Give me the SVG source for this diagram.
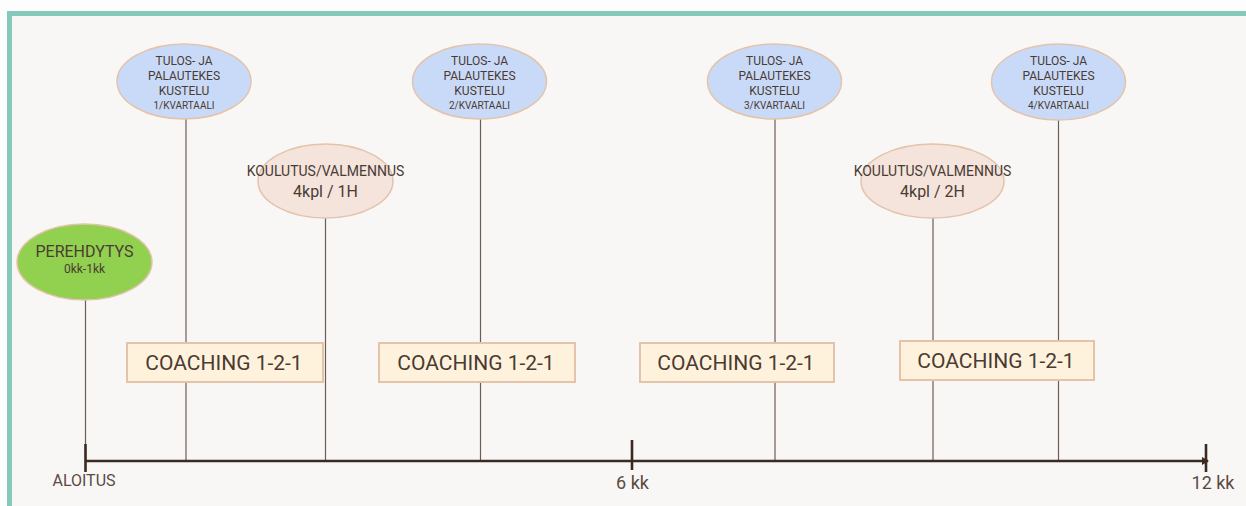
<svg xmlns="http://www.w3.org/2000/svg" width="1246" height="506" viewBox="0 0 1246 506">
  <defs>
    <style>
      .txt { font-family: Roboto, "Liberation Sans", sans-serif; fill: #4a3b33; text-anchor: middle; }
      .tulos { fill: #c9daf8; stroke: #e3c4ab; stroke-width: 1.5; }
      .koul { fill: #f4e4dc; stroke: #e3c4ab; stroke-width: 1.5; }
      .pere { fill: #92d050; stroke: #e3c4ab; stroke-width: 1.5; }
      .box { fill: #fff2dc; stroke: #e5c3aa; stroke-width: 2; }
      .stem { stroke: #6d5c54; stroke-width: 1.2; fill: none; }
      .axis { stroke: #3b2a22; stroke-width: 2.6; fill: none; }
      .t11 { font-size: 12px; }
      .t9 { font-size: 10px; }
      .t12 { font-size: 12px; }
      .t13 { font-size: 14px; }
      .t15 { font-size: 15px; }
      .t16 { font-size: 16px; }
      .t21 { font-size: 21px; }
      .lbl { fill: #5a4a42; }
    </style>
    <marker id="arrow" markerWidth="8" markerHeight="8" refX="6" refY="4" orient="auto" markerUnits="userSpaceOnUse">
      <path d="M0,0 L7,4 L0,8 Z" fill="#3b2a22"/>
    </marker>
  </defs>

  <!-- page and frame -->
  <rect x="0" y="0" width="1246" height="506" fill="#fdfdfd"/>
  <rect x="9" y="13" width="1240" height="500" fill="#f9f7f5"/>
  <rect x="7" y="11" width="1239" height="5" fill="#86c9bb"/>
  <rect x="7" y="11" width="5" height="495" fill="#86c9bb"/>

  <!-- connectors: stems down to the timeline -->
  <g id="connectors">
    <line class="stem" x1="85.5" y1="300" x2="85.5" y2="461"/>
    <line class="stem" x1="186" y1="119" x2="186" y2="461"/>
    <line class="stem" x1="325.5" y1="218" x2="325.5" y2="461"/>
    <line class="stem" x1="480.5" y1="119" x2="480.5" y2="461"/>
    <line class="stem" x1="775" y1="119" x2="775" y2="461"/>
    <line class="stem" x1="933" y1="218" x2="933" y2="461"/>
    <line class="stem" x1="1058.5" y1="119" x2="1058.5" y2="461"/>
  </g>

  <!-- timeline -->
  <g id="timeline">
    <line class="axis" x1="85" y1="461" x2="1208" y2="461" marker-end="url(#arrow)"/>
    <line class="axis" x1="85.5" y1="444" x2="85.5" y2="472"/>
    <line class="axis" x1="632" y1="440" x2="632" y2="470"/>
    <line class="axis" x1="1206" y1="444" x2="1206" y2="472"/>
    <text class="txt lbl" font-size="16" x="84" y="486">ALOITUS</text>
    <text class="txt lbl" font-size="18" x="632.5" y="488.5">6 kk</text>
    <text class="txt lbl" font-size="18" x="1213" y="488.5">12 kk</text>
  </g>

  <!-- onboarding -->
  <g id="perehdytys">
    <ellipse class="pere" cx="84.5" cy="262" rx="67.5" ry="38"/>
    <text class="txt t16" x="84.5" y="256.5">PEREHDYTYS</text>
    <text class="txt t12" x="84.5" y="273">0kk-1kk</text>
  </g>

  <!-- quarterly reviews -->
  <g id="tulos1">
    <ellipse class="tulos" cx="184" cy="81.5" rx="67" ry="37.5"/>
    <text class="txt t11" x="184" y="65">TULOS- JA</text>
    <text class="txt t11" x="184" y="80">PALAUTEKES</text>
    <text class="txt t11" x="184" y="95">KUSTELU</text>
    <text class="txt t9" x="184" y="109">1/KVARTAALI</text>
  </g>
  <g id="tulos2">
    <ellipse class="tulos" cx="479.5" cy="81.5" rx="67" ry="37.5"/>
    <text class="txt t11" x="479.5" y="65">TULOS- JA</text>
    <text class="txt t11" x="479.5" y="80">PALAUTEKES</text>
    <text class="txt t11" x="479.5" y="95">KUSTELU</text>
    <text class="txt t9" x="479.5" y="109">2/KVARTAALI</text>
  </g>
  <g id="tulos3">
    <ellipse class="tulos" cx="774.5" cy="81.5" rx="67" ry="37.5"/>
    <text class="txt t11" x="774.5" y="65">TULOS- JA</text>
    <text class="txt t11" x="774.5" y="80">PALAUTEKES</text>
    <text class="txt t11" x="774.5" y="95">KUSTELU</text>
    <text class="txt t9" x="774.5" y="109">3/KVARTAALI</text>
  </g>
  <g id="tulos4">
    <ellipse class="tulos" cx="1058.5" cy="82" rx="67" ry="38"/>
    <text class="txt t11" x="1058.5" y="65">TULOS- JA</text>
    <text class="txt t11" x="1058.5" y="80">PALAUTEKES</text>
    <text class="txt t11" x="1058.5" y="95">KUSTELU</text>
    <text class="txt t9" x="1058.5" y="109">4/KVARTAALI</text>
  </g>

  <!-- training -->
  <g id="koulutus1">
    <ellipse class="koul" cx="325.5" cy="181" rx="67.5" ry="37"/>
    <text class="txt t13" x="325.5" y="176">KOULUTUS/VALMENNUS</text>
    <text class="txt t16" x="325.5" y="197">4kpl / 1H</text>
  </g>
  <g id="koulutus2">
    <ellipse class="koul" cx="932.5" cy="181" rx="71.5" ry="37"/>
    <text class="txt t13" x="932.5" y="176">KOULUTUS/VALMENNUS</text>
    <text class="txt t16" x="932.5" y="197">4kpl / 2H</text>
  </g>

  <!-- coaching sessions -->
  <g id="coaching1">
    <rect class="box" x="127" y="343" width="196" height="39"/>
    <text class="txt t21" x="224" y="369.5">COACHING 1-2-1</text>
  </g>
  <g id="coaching2">
    <rect class="box" x="379" y="343" width="196" height="39"/>
    <text class="txt t21" x="476" y="369.5">COACHING 1-2-1</text>
  </g>
  <g id="coaching3">
    <rect class="box" x="640" y="343" width="194" height="39"/>
    <text class="txt t21" x="736" y="369.5">COACHING 1-2-1</text>
  </g>
  <g id="coaching4">
    <rect class="box" x="900" y="341" width="194" height="39"/>
    <text class="txt t21" x="996" y="367.5">COACHING 1-2-1</text>
  </g>
</svg>
